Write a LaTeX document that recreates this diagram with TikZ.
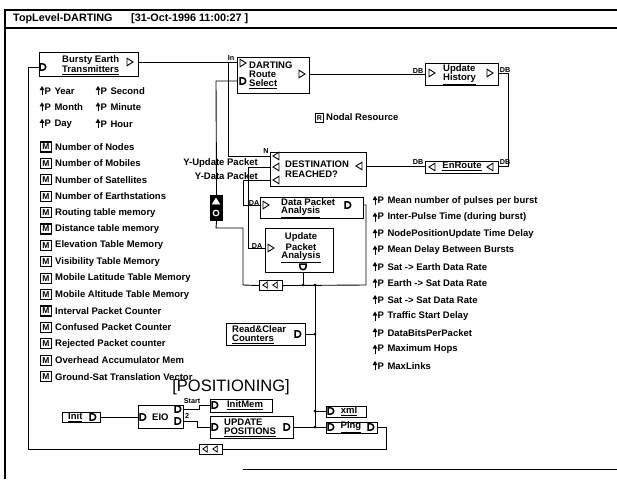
\documentclass[tikz,border=0pt]{standalone}
\usepackage{fontspec}
\setmainfont{Liberation Sans}
\newcommand\labfont{\fontsize{9.5}{10}\selectfont\bfseries}
\newcommand\smallfont{\fontsize{7.2}{8}\selectfont\bfseries}
\begin{document}
\begin{tikzpicture}[x=1pt,y=-1pt,
  wire/.style={line width=0.9pt},
  frame/.style={line width=1.2pt},
  box/.style={draw,line width=1.1pt,inner sep=0pt,anchor=north west,fill=white},
  lbl/.style={font=\labfont,inner sep=0pt,anchor=west},
  clbl/.style={font=\labfont,inner sep=0pt},
  slbl/.style={font=\smallfont,inner sep=0pt},
  jdot/.style={circle,fill,inner sep=0pt,minimum size=3pt},
  mbox/.style={draw,line width=1.2pt,minimum width=11pt,minimum height=10pt,inner sep=0pt,font=\fontsize{8.5}{8}\selectfont\bfseries},
  tri/.pic={\draw[line width=0.9pt,fill=white] (-3,-3.8) -- (3,0) -- (-3,3.8) -- cycle;},
  stri/.pic={\draw[line width=0.8pt,fill=white] (-2.2,-3) -- (2.2,0) -- (-2.2,3) -- cycle;},
  dport/.pic={\draw[line width=1.5pt,fill=white] (-3,-3.2) -- (-0.5,-3.2) arc[start angle=-90,end angle=90,radius=3.2] -- (-3,3.2) -- cycle;},
  parrow/.pic={\draw[line width=1pt] (0,4) -- (0,-2); \fill (-2.4,-1) -- (0,-5) -- (2.4,-1) -- cycle;},
]
\useasboundingbox (0,0) rectangle (617,479);
% ---------- frame ----------
\coordinate (fBL) at (5,479); \coordinate (fTL) at (5,10); \coordinate (fTR) at (617,10);
\coordinate (sL) at (5,28); \coordinate (sR) at (617,28);
\coordinate (bL) at (243,469); \coordinate (bR) at (617,469);
\draw[frame] (fBL) -- (fTL) -- (fTR);
\draw[frame] (sL) -- (sR);
\draw[wire] (bL) -- (bR);
\node[lbl,font=\fontsize{10.8}{12}\selectfont\bfseries] (title) at (13,19) {TopLevel-DARTING};
\node[lbl,font=\fontsize{10.8}{12}\selectfont\bfseries] (stamp) at (131,19) {[31-Oct-1996 11:00:27 ]};

% ---------- boxes ----------
\node[box,minimum width=99pt,minimum height=24pt] (bursty) at (39,52) {};
\node[box,minimum width=72pt,minimum height=36pt] (dart) at (237,57) {};
\node[box,minimum width=73pt,minimum height=22pt] (uhist) at (425,63) {};
\node[box,minimum width=73pt,minimum height=12pt] (enroute) at (425,161) {};
\node[box,minimum width=96pt,minimum height=34pt] (dest) at (270,152) {};
\node[box,minimum width=103pt,minimum height=21pt] (dpa) at (260,197) {};
\node[box,minimum width=68pt,minimum height=44pt] (upa) at (265,228) {};
\node[box,minimum width=12pt,minimum height=25pt,fill=black] (dly) at (210,195) {};
\node[box,minimum width=23pt,minimum height=10pt] (merge1) at (259,280) {};
\node[box,minimum width=79pt,minimum height=22pt] (rc) at (226,323) {};
\node[box,minimum width=40pt,minimum height=11pt] (xml) at (326,406) {};
\node[box,minimum width=51pt,minimum height=11pt] (ping) at (326,422) {};
\node[box,minimum width=83pt,minimum height=22pt] (upos) at (210,416) {};
\node[box,minimum width=62pt,minimum height=13pt] (initmem) at (210,399) {};
\node[box,minimum width=45pt,minimum height=23pt] (eio) at (138,405) {};
\node[box,minimum width=38pt,minimum height=10pt] (init) at (62,412) {};
\node[box,minimum width=23pt,minimum height=10pt] (merge2) at (199,444) {};
\node[box,line width=1pt,minimum width=8pt,minimum height=9pt,font=\fontsize{7}{7}\selectfont\bfseries] (rbox) at (315,113) {R};

% ---------- connection points ----------
\coordinate (bOut) at (138,62); \coordinate (dIn) at (237,62);
\coordinate (jN) at (228,62); \coordinate (destN) at (270,156);
\coordinate (dC) at (237,81);
\coordinate (dOut) at (309,74); \coordinate (uhIn) at (425,74);
\coordinate (uhOut) at (498,73); \coordinate (erOutR) at (498,166);
\coordinate (erL) at (425,166); \coordinate (destR) at (366,166);
\coordinate (destU) at (270,167); \coordinate (destD) at (270,180);
\coordinate (upaIn) at (265,248); \coordinate (dpaIn) at (260,205);
\coordinate (dpaOut) at (363,205);
\coordinate (upaOut) at (303,272);
\coordinate (j1) at (303,285); \coordinate (j2) at (315,285);
\coordinate (j3) at (315,334); \coordinate (j4) at (315,411); \coordinate (j5) at (315,427);
\coordinate (rcOut) at (305,334); \coordinate (xmlIn) at (326,411);
\coordinate (uposOut) at (293,427); \coordinate (pingIn) at (326,427);
\coordinate (pingOut) at (377,427); \coordinate (m2R) at (222,449); \coordinate (m2L) at (199,449);
\coordinate (burstyIn) at (39,67);
\coordinate (initOut) at (100,417); \coordinate (eioIn) at (138,417);
\coordinate (eioO1) at (183,409); \coordinate (imIn) at (210,405);
\coordinate (eioO2) at (183,421); \coordinate (uposIn) at (210,427);

% ---------- wires ----------
\draw[wire] (bOut) -- (dIn);
\draw[wire] (destN) -- (228,156) -- (jN);
\draw[wire] (dC) -- (216,81) -- (dly.north);
\draw[wire] (dly.south) -- (216,228) -- (243,228) -- (243,285) -- (merge1.west);
\draw[wire] (dOut) -- (uhIn);
\draw[wire] (uhOut) -- (508,73) -- (508,166) -- (erOutR);
\draw[wire] (erL) -- (destR);
\draw[wire] (destU) -- (248,167) -- (248,248) -- (upaIn);
\draw[wire] (destD) -- (243,180) -- (243,205) -- (dpaIn);
\draw[wire] (dpaOut) -- (366,205) -- (366,285) -- (merge1.east);
\draw[wire] (upaOut) -- (j1);
\draw[wire] (j2) -- (j5);
\draw[wire] (rcOut) -- (j3);
\draw[wire] (j4) -- (xmlIn);
\draw[wire] (uposOut) -- (pingIn);
\draw[wire] (pingOut) -- (386,427) -- (386,449) -- (m2R);
\draw[wire] (m2L) -- (28,449) -- (28,67) -- (burstyIn);
\draw[wire] (initOut) -- (eioIn);
\draw[wire] (eioO1) -- (199,409) -- (199,405) -- (imIn);
\draw[wire] (eioO2) -- (197,421) -- (197,427) -- (uposIn);
\foreach \p in {j1,j2,j3,j4,j5} \node[jdot] (d\p) at (\p) {};

% ---------- ports ----------
\pic at (43,67) {dport};
\pic at (130,62) {tri};
\pic at (243,63) {tri};
\pic at (243,81) {dport};
\pic at (302,74) {tri};
\pic at (432,73) {tri};
\pic at (490,73) {tri};
\pic[rotate=180] at (432,167) {tri};
\pic[rotate=180] at (490,167) {tri};
\pic[rotate=180] at (276,156) {tri};
\pic[rotate=180] at (276,167) {tri};
\pic[rotate=180] at (276,180) {tri};
\pic[rotate=180] at (359,166) {tri};
\pic at (266,205) {tri};
\pic at (348,205) {dport};
\pic at (271,248) {tri};
\pic[rotate=-90] at (303,267) {dport};
\pic at (298,334) {dport};
\pic at (331,411) {dport};
\pic at (331,427) {dport};
\pic at (371,427) {dport};
\pic at (215,427) {dport};
\pic at (287,427) {dport};
\pic at (215,405) {dport};
\pic at (143,417) {dport};
\pic at (178,409) {dport};
\pic at (178,421) {dport};
\pic at (93,417) {dport};
\pic[rotate=180] at (265,285) {stri};
\pic[rotate=180] at (275,285) {stri};
\pic[rotate=180] at (205,449) {stri};
\pic[rotate=180] at (215,449) {stri};
\draw[white,line width=0.9pt,fill=white] (212.5,204) -- (216,198.5) -- (219.5,204) -- cycle;
\draw[white,line width=1.2pt] (216,213) circle[radius=2.8];

% ---------- box texts ----------
\node[lbl] (t1) at (62,60) {Bursty Earth};
\node[lbl] (t2) at (62,70.5) {\underline{Transmitters}};
\node[lbl] (t3) at (249,65) {DARTING};
\node[lbl] (t4) at (249,74.5) {Route};
\node[lbl] (t5) at (249,84) {\underline{Select}};
\node[lbl] (t6) at (443,69) {Update};
\node[lbl] (t7) at (443,79) {\underline{History}};
\node[clbl] (t8) at (462,166.5) {\underline{EnRoute}};
\node[lbl] (t9) at (285,164.5) {DESTINATION};
\node[lbl] (t10) at (285,174.5) {REACHED?};
\node[lbl] (t11) at (281,202) {Data Packet};
\node[lbl] (t12) at (281,212) {\underline{Analysis}};
\node[clbl] (t13) at (301,237) {Update};
\node[clbl] (t14) at (301,247) {Packet};
\node[clbl] (t15) at (301,257) {\underline{Analysis}};
\node[lbl] (t16) at (232,329) {Read\&Clear};
\node[lbl] (t17) at (232,339) {\underline{Counters}};
\node[clbl] (t18) at (349,411) {\underline{xml}};
\node[clbl] (t19) at (351,427) {\underline{Ping}};
\node[lbl] (t20) at (224,422) {UPDATE};
\node[lbl] (t21) at (224,432) {\underline{POSITIONS}};
\node[clbl] (t22) at (245,405.5) {\underline{InitMem}};
\node[lbl] (t23) at (152,417) {EIO};
\node[lbl] (t24) at (68,417) {\underline{Init}};
\node[font=\fontsize{16.5}{18}\selectfont,inner sep=0pt] (posn) at (231,387) {[POSITIONING]};
\node[lbl] (nodal) at (326,117.5) {Nodal Resource};

% ---------- wire labels ----------
\node[slbl] (lIn) at (231,58.5) {In};
\node[slbl] (lN) at (266,151) {N};
\node[slbl] (lDB1) at (418,71) {DB};
\node[slbl] (lDB2) at (505,70) {DB};
\node[slbl] (lDB3) at (418,162) {DB};
\node[slbl] (lDB4) at (505,162) {DB};
\node[slbl] (lDA1) at (254,203) {DA};
\node[slbl] (lDA2) at (257,246) {DA};
\node[slbl] (lStart) at (192,401) {Start};
\node[slbl] (l2) at (187,416) {2};
\node[lbl,anchor=east] (yup) at (258,163.5) {Y-Update Packet};
\node[lbl,anchor=east] (ydp) at (258,176) {Y-Data Packet};

% ---------- parameter lists ----------
\foreach \t [count=\i] in {Year,Month,Day} {
  \pic at (42,74.6+16.4*\i) {parrow};
  \node[lbl] (pa\i) at (44.5,74.6+16.4*\i) {P\hspace{3.5pt}\t};
}
\foreach \t [count=\i] in {Second,Minute,Hour} {
  \pic at (98,74.6+16.4*\i) {parrow};
  \node[lbl] (pb\i) at (100.5,74.6+16.4*\i) {P\hspace{3.5pt}\t};
}
\foreach \t [count=\i] in {Number of Nodes,Number of Mobiles,Number of Satellites,Number of Earthstations,Routing table memory,Distance table memory,Elevation Table Memory,Visibility Table Memory,Mobile Latitude Table Memory,Mobile Altitude Table Memory,Interval Packet Counter,Confused Packet Counter,Rejected Packet counter,Overhead Accumulator Mem,Ground-Sat Translation Vector} {
  \node[mbox] (mb\i) at (46,130.6+16.4*\i) {M};
  \node[lbl] (ml\i) at (55,130.6+16.4*\i) {\t};
}
\foreach \t [count=\i] in {Mean number of pulses per burst,Inter-Pulse Time (during burst),NodePositionUpdate Time Delay,Mean Delay Between Bursts,Sat -> Earth Data Rate,Earth -> Sat Data Rate,Sat -> Sat Data Rate,Traffic Start Delay,DataBitsPerPacket,Maximum Hops,MaxLinks} {
  \pic at (375,184.5+16.5*\i) {parrow};
  \node[lbl] (pr\i) at (377.5,184.5+16.5*\i) {P\hspace{3.5pt}\t};
}
\end{tikzpicture}
\end{document}
